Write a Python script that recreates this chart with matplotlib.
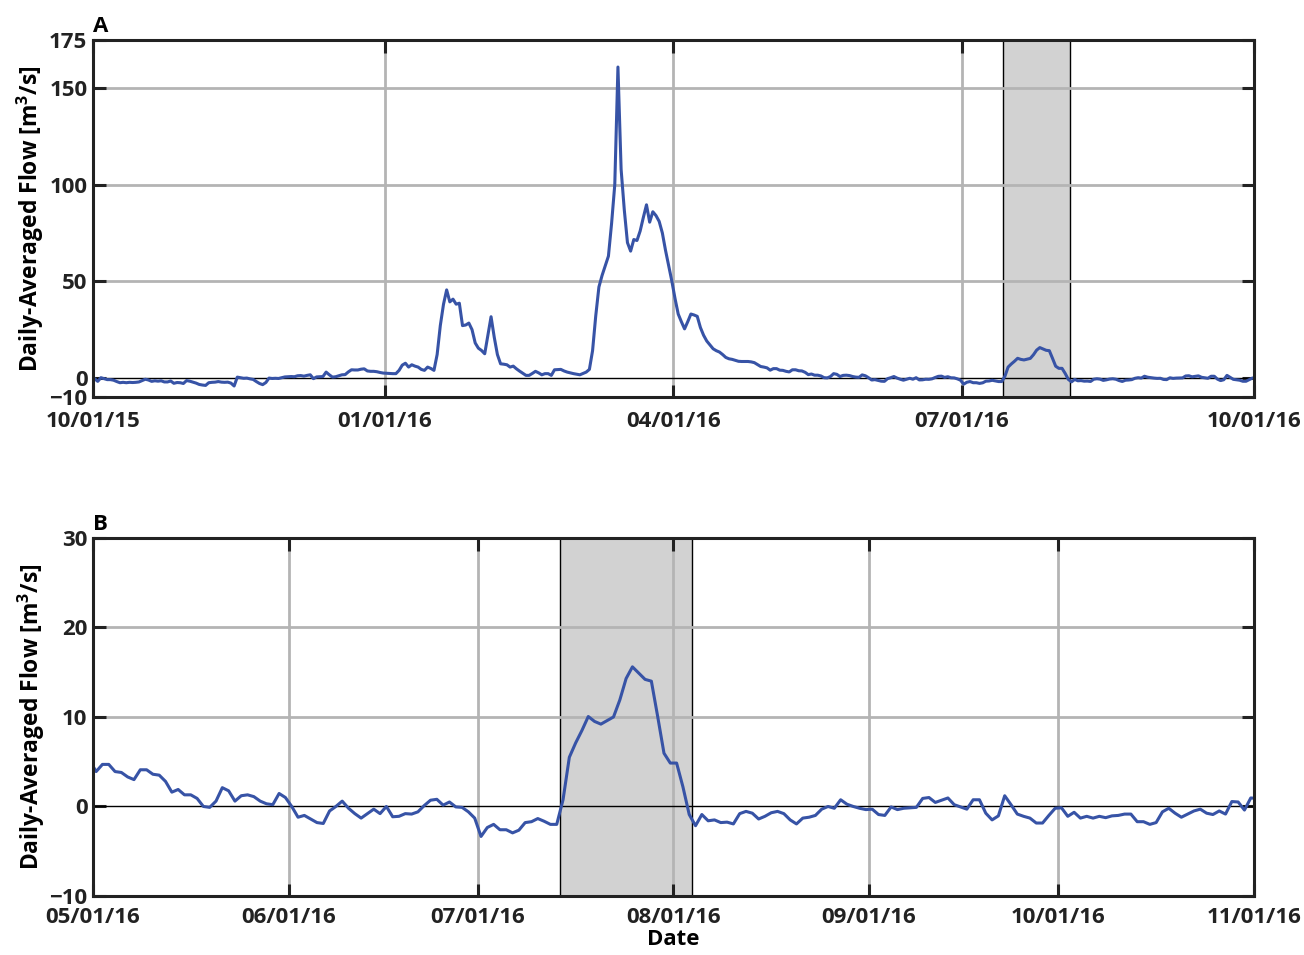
"""
Daily-averaged flow, two panels: full water year (A) and May-Oct zoom (B).
"""
import numpy as np
import pandas as pd
import matplotlib
matplotlib.use("Agg")
import matplotlib.pyplot as plt
import matplotlib.dates as mdates

plt.rcParams["font.family"] = ["Open Sans", "DejaVu Sans"]
plt.rcParams["font.weight"] = "bold"
plt.rcParams["mathtext.default"] = "regular"

LINE_COLOR = "#3753a6"
GRID_COLOR = "#b4b4b4"
SHADE_COLOR = "#d2d2d2"

# daily values, 09/30/15 12:00 -> 04/29/16 12:00 (m3/s)
flow_oct15_apr16 = [
    0, -0.5, -1.9, 0, -0.5, -1, -1, -1.3, -2, -2.6,
    -2.4, -2.6, -2.4, -2.5, -2.4, -2.2, -1.5, -0.8, -1.2, -1.9,
    -1.6, -1.8, -1.6, -2.2, -2.2, -1.7, -2.9, -2.5, -2.6, -3.0,
    -1.5, -1.8, -2.3, -2.8, -3.5, -3.8, -4.0, -2.6, -2.4, -2.3,
    -2.0, -2.3, -2.4, -2.3, -2.8, -4.3, 0.3, 0.0, -0.3, -0.2,
    -0.6, -0.9, -2.0, -3.0, -3.6, -2.5, -0.2, -0.4, -0.3, -0.4,
    0.0, 0.4, 0.5, 0.6, 0.5, 1.0, 1.1, 0.8, 1.2, 1.5,
    -0.5, 0.4, 0.5, 0.6, 2.9, 1.5, 0.3, 0.5, 1.0, 1.5,
    1.6, 3.0, 4.1, 4.0, 4.0, 4.4, 4.6, 3.5, 3.3, 3.3,
    3.1, 2.7, 2.4,
    2.3, 2.2, 2.1, 2.1, 3.8, 6.5, 7.5, 5.5, 6.7, 6.0,
    5.5, 4.3, 3.8, 5.5, 4.8, 3.8,
    12, 27, 38, 45.5, 39.3, 40.7, 38.1, 38.6, 27, 27.3,
    28.3, 24.9, 18, 15.3, 14.1, 12.4, 22, 31.6, 21, 12,
    7.2, 7.0, 6.7, 5.5, 6.0, 4.6, 3.4, 2.3, 1.2, 1.2,
    2.2, 3.3, 2.5, 1.5, 2.1, 2.1, 1.2, 4.1, 4.2, 4.3,
    3.5, 2.9, 2.5, 2.1, 1.8, 1.5, 2.2, 2.9, 4.3,
    14, 32, 47, 53, 58, 63, 80, 100, 161, 108,
    87, 70, 65.6, 71.6, 71.1, 76, 83, 89.6, 80.6, 86,
    84, 81, 75, 66, 58, 50, 41, 33, 29, 25.3,
    29, 33, 32.5, 31.8, 26, 22, 19, 17, 15, 14,
    13.3, 12, 10.5, 9.8, 9.5, 9, 8.5, 8.4, 8.4, 8.4,
    8.2, 7.8, 6.8, 5.8, 5.5,
]

# daily values, 04/30/16 12:00 -> 11/01/16 12:00 (m3/s)
flow_may16_oct16 = [
    5.1, 3.9, 4.7, 4.7, 3.9, 3.8, 3.3, 3.0, 4.1, 4.1,
    3.6, 3.5, 2.8, 1.6, 1.9, 1.3, 1.3, 0.9, 0.0, -0.1,
    0.6, 2.1, 1.75, 0.6, 1.2, 1.3, 1.1, 0.6, 0.3, 0.2,
    1.45, 1.0, 0.0, -1.2, -1.0, -1.4, -1.8, -1.9, -0.5,
    0.0, 0.6, -0.2, -0.8, -1.3, -0.8, -0.3, -0.8, 0.0, -1.15,
    -1.1, -0.8, -0.85, -0.6, 0.1, 0.7, 0.8, 0.15, 0.5, -0.05,
    -0.1, -0.6, -1.3, -3.35, -2.35, -2.0, -2.6, -2.6, -2.95, -2.65,
    -1.8, -1.7, -1.35, -1.65, -2.0, -2.0,
    0.75, 5.5, 7.1, 8.5, 10.05, 9.5, 9.2, 9.6, 10.0, 11.9,
    14.3, 15.6, 14.9, 14.2, 14.0, 10.05, 5.95, 4.85, 4.85, 2.2,
    -0.9, -2.15, -0.9, -1.6, -1.5, -1.8, -1.75, -1.95, -0.8, -0.55,
    -0.75, -1.4, -1.1, -0.7, -0.55, -0.8, -1.5, -1.95, -1.3, -1.2,
    -1.0, -0.3, 0.0, -0.2, 0.75, 0.25, 0.0, -0.2, -0.35, -0.3,
    -0.9, -1.0, -0.05,
    -0.35, -0.2, -0.15, -0.1, 0.9, 1.0, 0.45, 0.7, 0.95, 0.2,
    -0.05, -0.3, 0.75, 0.75, -0.75, -1.5, -1.05, 1.2, 0.2, -0.85,
    -1.1, -1.3,
    -1.85, -1.85, -1.0, -0.2, -0.15, -1.1, -0.65, -1.3, -1.1, -1.3,
    -1.1, -1.25, -1.05, -1.0, -0.85, -0.85, -1.7, -1.7, -2.0, -1.8,
    -0.6, -0.2, -0.75, -1.2, -0.85, -0.5, -0.3, -0.75, -0.9, -0.5,
    -0.85, 0.55, 0.5, -0.4, 0.95, 0.9,
]

# highlighted event window
event_start = "2016-07-14"
event_end = "2016-08-04"

# panel settings
panel_a_xlim = ("2015-10-01", "2016-10-01")
panel_a_xticks = ["2015-10-01", "2016-01-01", "2016-04-01", "2016-07-01", "2016-10-01"]
panel_a_yticks = [-10, 0, 50, 100, 150, 175]
panel_a_ygrid = [50, 100, 150]

panel_b_xlim = ("2016-05-01", "2016-11-01")
panel_b_xticks = ["2016-05-01", "2016-06-01", "2016-07-01", "2016-08-01",
                  "2016-09-01", "2016-10-01", "2016-11-01"]
panel_b_yticks = [-10, 0, 10, 20, 30]
panel_b_ygrid = [10, 20]

dates_early = pd.date_range("2015-09-30 12:00", periods=len(flow_oct15_apr16), freq="D")
dates_late = pd.date_range("2016-04-30 12:00", periods=len(flow_may16_oct16), freq="D")
dates_all = dates_early.append(dates_late)
flow_all = np.array(flow_oct15_apr16 + flow_may16_oct16)
flow_late = np.array(flow_may16_oct16)


def style_panel(ax, xlim, xticks, yticks, ygrid, letter, xpad):
    x0, x1 = pd.Timestamp(xlim[0]), pd.Timestamp(xlim[1])
    ax.set_xlim(x0, x1)
    ax.set_ylim(yticks[0], yticks[-1])

    ax.axvspan(pd.Timestamp(event_start), pd.Timestamp(event_end),
               facecolor=SHADE_COLOR, edgecolor="black", linewidth=1.0, zorder=1)

    # grid only where the reference draws it
    for xt in xticks[1:-1]:
        ax.axvline(pd.Timestamp(xt), color=GRID_COLOR, linewidth=2.0, zorder=1.5)
    for yg in ygrid:
        ax.axhline(yg, color=GRID_COLOR, linewidth=2.0, zorder=1.5)
    ax.axhline(0, color="black", linewidth=1.0, zorder=1.8)

    ax.set_xticks([pd.Timestamp(t) for t in xticks])
    ax.xaxis.set_major_formatter(mdates.DateFormatter("%m/%d/%y"))
    ax.set_yticks(yticks)
    ax.tick_params(direction="in", length=9, width=2.2, labelsize=16,
                   top=True, right=True, colors="#222222")
    ax.tick_params(axis="x", pad=xpad)
    ax.tick_params(axis="y", pad=4)
    for lab in ax.get_xticklabels() + ax.get_yticklabels():
        lab.set_fontweight("bold")
    for sp in ax.spines.values():
        sp.set_linewidth(2.2)
        sp.set_color("#222222")
        sp.set_zorder(3)

    ax.set_ylabel("Daily-Averaged Flow [m$^{3}$/s]", fontsize=16.5,
                  fontweight="bold", labelpad=2)
    ax.text(0.0, 1.008, letter, transform=ax.transAxes, ha="left", va="bottom",
            fontsize=16, fontweight="bold")


fig = plt.figure(figsize=(13.04, 9.55), dpi=100)
fig.patch.set_facecolor("white")

ax_a = fig.add_axes([0.0713, 0.5843, 0.8903, 0.3738])
ax_a.plot(dates_all, flow_all, color=LINE_COLOR, linewidth=2.2, zorder=2)
style_panel(ax_a, panel_a_xlim, panel_a_xticks, panel_a_yticks, panel_a_ygrid, "A", 10)

ax_b = fig.add_axes([0.0713, 0.0618, 0.8903, 0.3749])
ax_b.plot(dates_late, flow_late, color=LINE_COLOR, linewidth=2.2, zorder=2)
style_panel(ax_b, panel_b_xlim, panel_b_xticks, panel_b_yticks, panel_b_ygrid, "B", 8)
ax_b.set_xlabel("Date", fontsize=16, fontweight="bold", labelpad=1)

fig.savefig("out.png", dpi=100)
plt.close(fig)
